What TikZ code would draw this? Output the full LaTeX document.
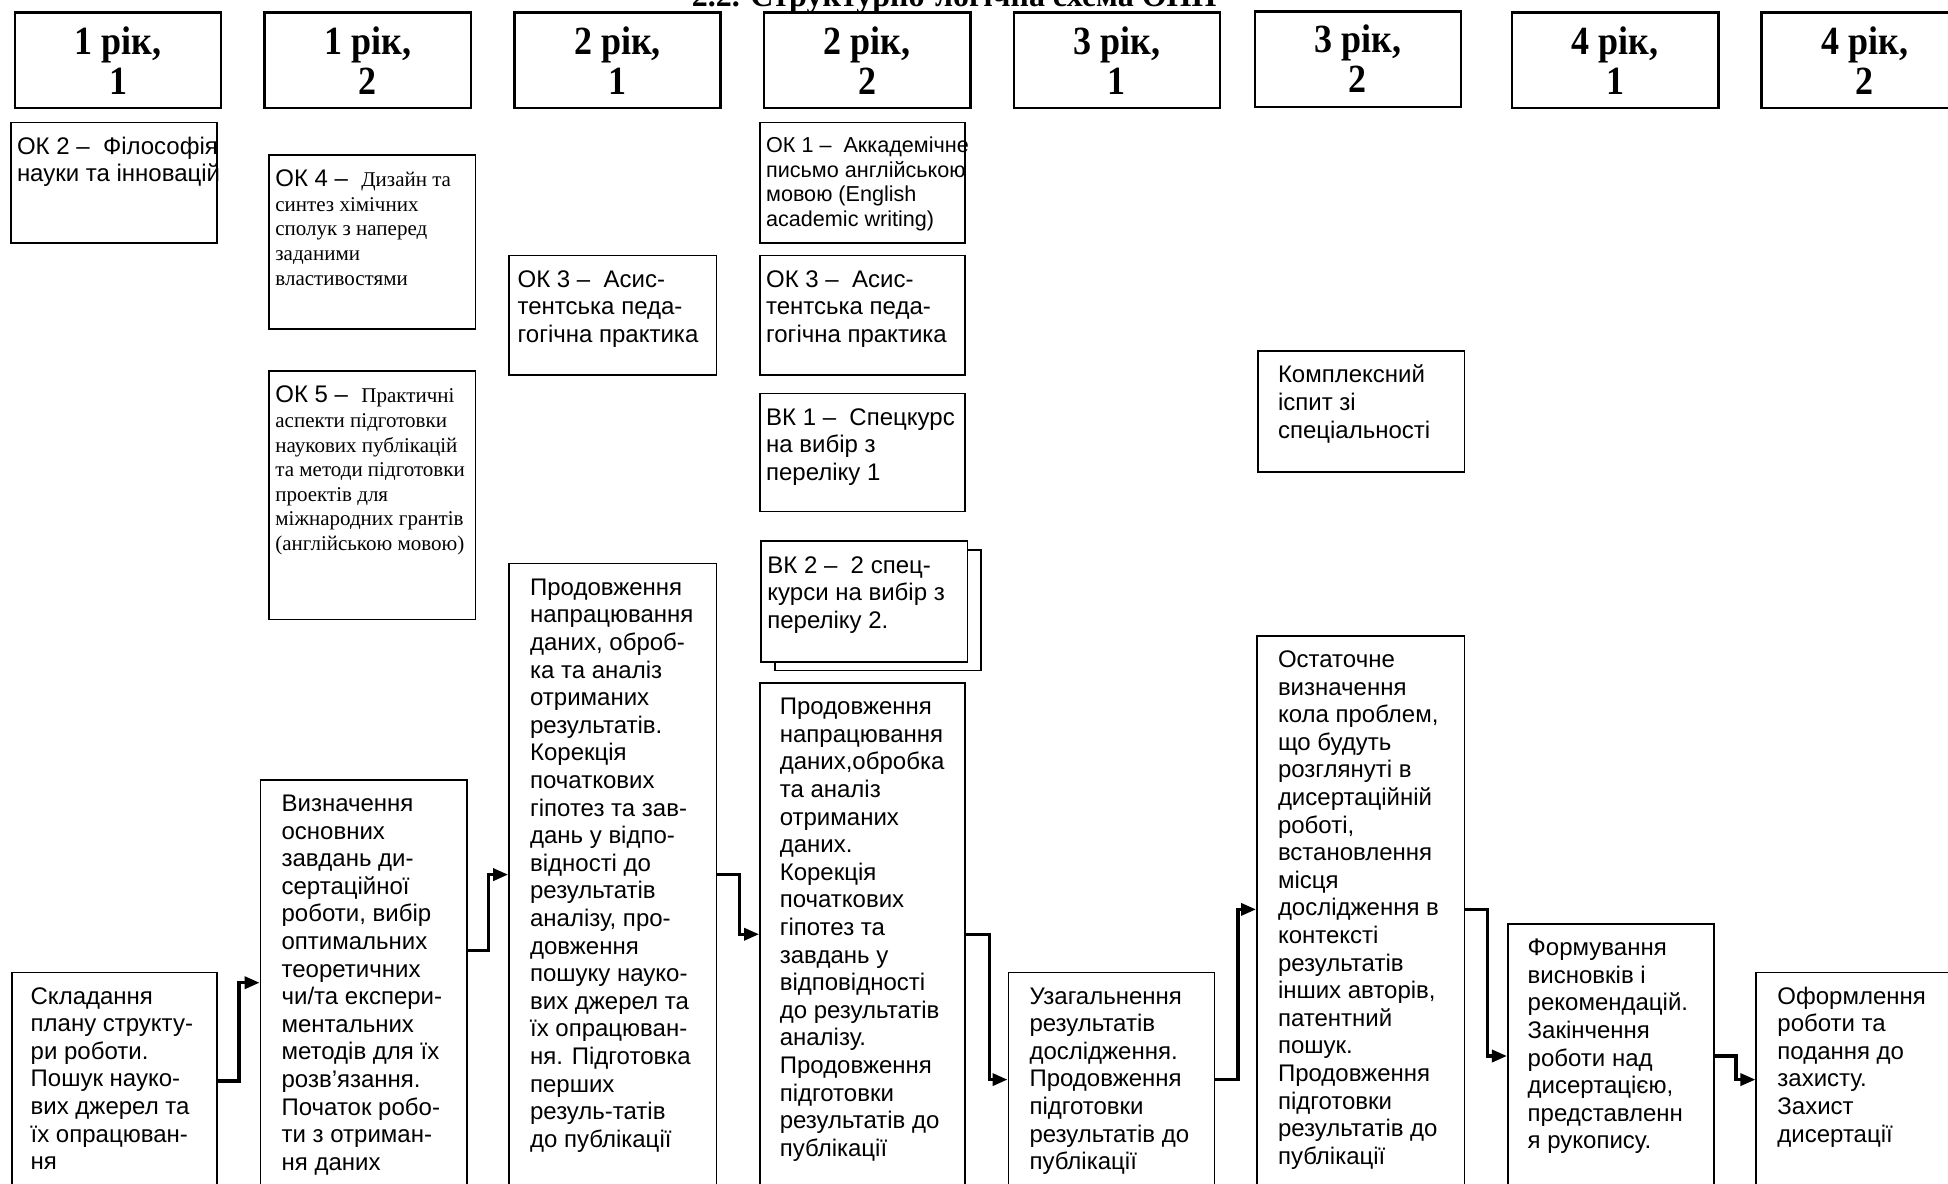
\documentclass[tikz,border=0pt]{standalone}
\usepackage{fontspec}
\setmainfont{Liberation Sans}
\newfontfamily\tnr{Liberation Serif}
\newfontfamily\tnrnarrow[FakeStretch=0.9]{Liberation Serif}
\usepackage{tikz}
\usetikzlibrary{arrows.meta,shadows}
\newdimen\px \px=0.6212pt

\tikzset{
  term/.style={draw, line width=1.3pt, anchor=north west, inner sep=0pt,
    minimum width=166*\px, minimum height=77*\px, align=center,
    font=\tnrnarrow\bfseries\fontsize{20}{20}\selectfont},
  stage/.style n args={3}{draw, line width=0.85pt, anchor=north west, inner sep=0pt, fill=white,
    font=\fontsize{12}{13.8}\selectfont,
    execute at begin node={\begin{minipage}[t][#2\px][t]{#1\px}\raggedright
      \leftskip=#3\px\rightskip=-30\px plus 1fil\vspace*{10\px}\strut},
    execute at end node={\end{minipage}}},
  flow/.style={line width=1.7pt, -{Triangle[length=7.5pt,width=6pt]}},
}

\begin{document}
\begin{tikzpicture}[x=0.6212pt, y=-0.6212pt]
        \useasboundingbox (0,0) rectangle (1568,953);
        % Title (cut by the page top)
        \node[font=\tnr\bfseries\fontsize{16}{18}\selectfont, anchor=base, inner sep=0pt] (title) at (768,5) {2.2. Структурно-логічна схема ОНП};
        % Semesters
        \node[term] (h1) at (11,9) {1 рік,\\1};
        \node[term] (h2) at (212,9) {1 рік,\\2};
        \node[term] (h3) at (413,9) {2 рік,\\1};
        \node[term] (h4) at (614,9) {2 рік,\\2};
        \node[term] (h5) at (815,9) {3 рік,\\1};
        \node[term] (h6) at (1009,8) {3 рік,\\2};
        \node[term] (h7) at (1216,9) {4 рік,\\1};
        \node[term] (h8) at (1417,9) {4 рік,\\2};
        % Courses
        \node[stage={166}{97}{5}] (ok2) at (8,98) {ОК 2 –~ Філософія\\науки та інновацій};
        \node[stage={166}{140}{5}] (ok4) at (216,124) {ОК 4 –~ \tnr\fontsize{10.5}{12.3}\selectfont Дизайн та\\синтез хімічних\\сполук з наперед\\заданими\\властивостями\par};
        \node[stage={166}{200}{5}] (ok5) at (216,298) {ОК 5 –~ \tnr\fontsize{10.5}{12.3}\selectfont Практичні\\аспекти підготовки\\наукових публікацій\\та методи підготовки\\проектів для\\міжнародних грантів\\(англійською мовою)\par};
        \node[stage={167}{96}{7}] (ok3a) at (409,205) {ОК 3 –~ Асис-\\тентська педа-\\гогічна практика};
        \node[stage={165}{97}{5}, font=\fontsize{10.8}{12.4}\selectfont] (ok1) at (611,98) {ОК 1 –~ Аккадемічне\\письмо англійською\\мовою (English\\academic writing)};
        \node[stage={165}{96}{5}] (ok3b) at (611,205) {ОК 3 –~ Асис-\\тентська педа-\\гогічна практика};
        \node[stage={165}{95}{5}] (vk1) at (611,316) {ВК 1 –~ Спецкурс\\на вибір з\\переліку 1};
        \node[stage={166}{97}{5}, copy shadow={shadow xshift=6.8pt, shadow yshift=-4.3pt}] (vk2) at (612,435) {ВК 2 –~ 2 спец-\\курси на вибір з\\переліку 2.};
        \node[stage={166}{97}{16}] (exam) at (1012,282) {Комплексний\\іспит зі\\спеціальності};
        % Research work
        \node[stage={165}{218}{15}] (b1) at (9,782) {Складання\\плану структу-\\ри роботи.\\Пошук науко-\\вих джерел та\\їх опрацюван-\\ня};
        \node[stage={166}{373}{17}] (b2) at (209,627) {Визначення\\основних\\завдань ди-\\сертаційної\\роботи, вибір\\оптимальних\\теоретичних\\чи/та експери-\\ментальних\\методів для їх\\розв’язання.\\Початок робо-\\ти з отриман-\\ня даних};
        \node[stage={167}{547}{17}] (b3) at (409,453) {Продовження\\напрацювання\\даних, оброб-\\ка та аналіз\\отриманих\\результатів.\\Корекція\\початкових\\гіпотез та зав-\\дань у відпо-\\відності до\\результатів\\аналізу, про-\\довження\\пошуку науко-\\вих джерел та\\їх опрацюван-\\ня. Підготовка\\перших\\резуль-татів\\до публікації};
        \node[stage={165}{451}{16}] (b4) at (611,549) {Продовження\\напрацювання\\даних,обробка\\та аналіз\\отриманих\\даних.\\Корекція\\початкових\\гіпотез та\\завдань у\\відповідності\\до результатів\\аналізу.\\Продовження\\підготовки\\результатів до\\публікації};
        \node[stage={166}{218}{17}] (b5) at (811,782) {Узагальнення\\результатів\\дослідження.\\Продовження\\підготовки\\результатів до\\публікації};
        \node[stage={167}{489}{17}] (b6) at (1011,511) {Остаточне\\визначення\\кола проблем,\\що будуть\\розглянуті в\\дисертаційній\\роботі,\\встановлення\\місця\\дослідження в\\контексті\\результатів\\інших авторів,\\патентний\\пошук.\\Продовження\\підготовки\\результатів до\\публікації};
        \node[stage={166}{257}{16}] (b7) at (1213,743) {Формування\\висновків і\\рекомендацій.\\Закінчення\\роботи над\\дисертацією,\\представленн\\я рукопису.};
        \node[stage={200}{218}{17}] (b8) at (1413,782) {Оформлення\\роботи та\\подання до\\захисту.\\Захист\\дисертації};
        % Steps
        \draw[flow] (b1.east |- 0,870) -- ++(17,0) |- (b2.west |- 0,791);
        \draw[flow] (b2.east |- 0,765) -- ++(17,0) |- (b3.west |- 0,704);
        \draw[flow] (b3.east |- 0,704) -- ++(18,0) |- (b4.west |- 0,752);
        \draw[flow] (b4.east |- 0,752) -- ++(19,0) |- (b5.west |- 0,869);
        \draw[flow] (b5.east |- 0,869) -- ++(18,0) |- (b6.west |- 0,732);
        \draw[flow] (b6.east |- 0,732) -- ++(18,0) |- (b7.west |- 0,850);
        \draw[flow] (b7.east |- 0,850) -- ++(17,0) |- (b8.west |- 0,869);
\end{tikzpicture}
\end{document}
